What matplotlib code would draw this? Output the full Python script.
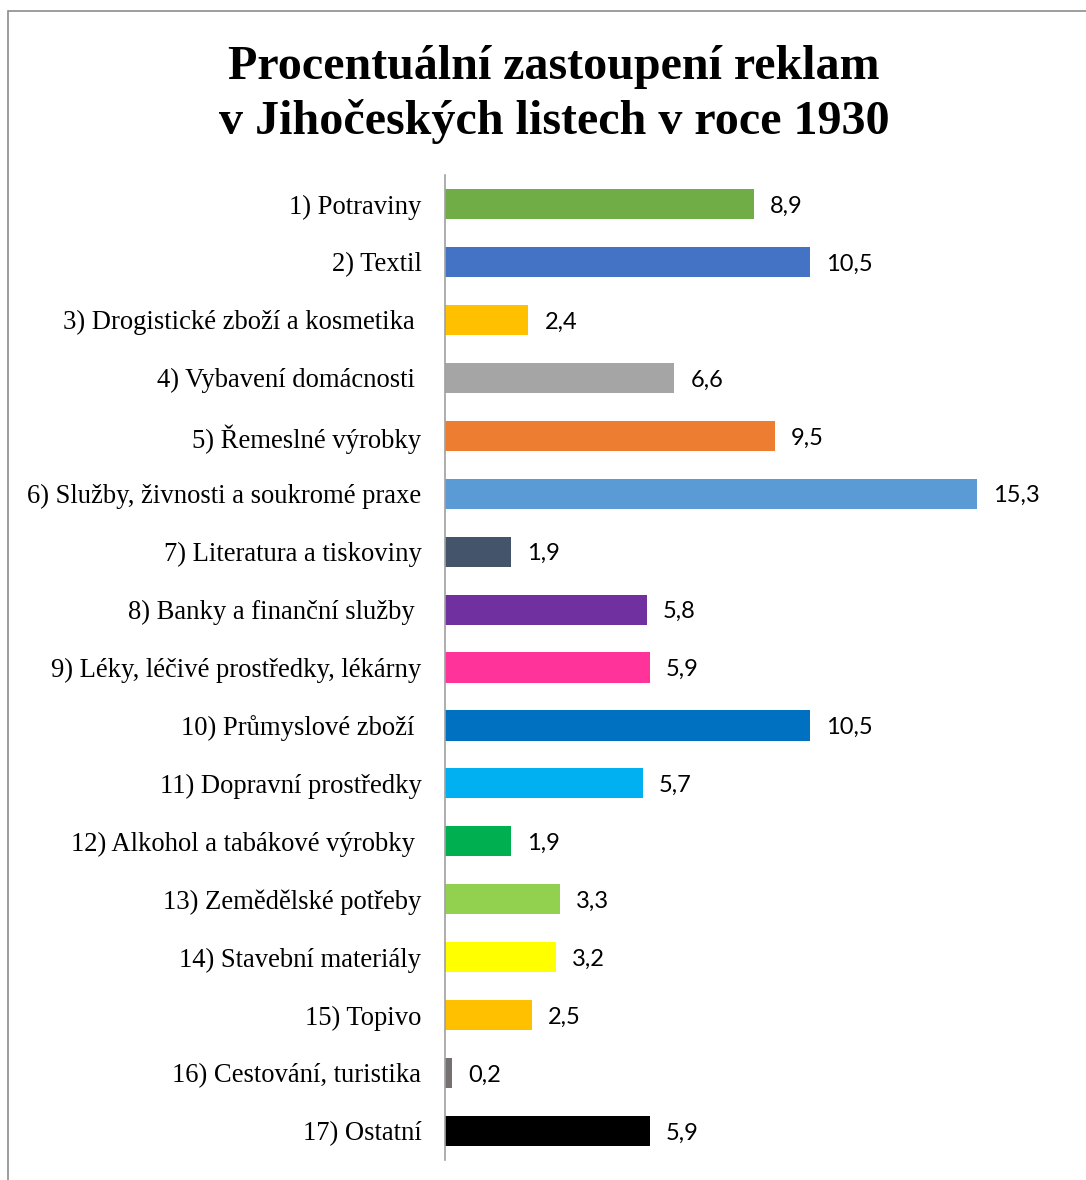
import matplotlib
matplotlib.use("Agg")
import matplotlib.pyplot as plt
from matplotlib.patches import Rectangle

categories = [
    "1) Potraviny",
    "2) Textil",
    "3) Drogistické zboží a kosmetika ",
    "4) Vybavení domácnosti ",
    "5) Řemeslné výrobky",
    "6) Služby, živnosti a soukromé praxe",
    "7) Literatura a tiskoviny",
    "8) Banky a finanční služby ",
    "9) Léky, léčivé prostředky, lékárny",
    "10) Průmyslové zboží ",
    "11) Dopravní prostředky",
    "12) Alkohol a tabákové výrobky ",
    "13) Zemědělské potřeby",
    "14) Stavební materiály",
    "15) Topivo",
    "16) Cestování, turistika",
    "17) Ostatní",
]
values = [8.9, 10.5, 2.4, 6.6, 9.5, 15.3, 1.9, 5.8, 5.9, 10.5, 5.7, 1.9, 3.3, 3.2, 2.5, 0.2, 5.9]
colors = ["#70AD47", "#4472C4", "#FFC000", "#A5A5A5", "#ED7D31", "#5B9BD5", "#44546A",
          "#7030A0", "#FF3399", "#0070C0", "#00B0F0", "#00B050", "#92D050", "#FFFF00",
          "#FFC000", "#767171", "#000000"]

fig = plt.figure(figsize=(10.86, 11.8), dpi=100)
ax = fig.add_axes([0.4098, 0.01695, 0.576, 0.8347])

pos = list(range(len(values)))
ax.barh(pos, values, height=0.52, color=colors)
ax.set_ylim(16.5, -0.5)
ax.set_xlim(0, 18)

for p, v in zip(pos, values):
    ax.annotate(f"{v:.1f}".replace(".", ","), (v, p), xytext=(11.5, -1.5),
                textcoords="offset points", va="center", ha="left",
                fontsize=17, family="Lato", color="#000000")

ax.set_yticks(pos)
ax.set_yticklabels(categories, family="Liberation Serif", fontsize=19.2)
ax.tick_params(axis="y", length=0, pad=17)
ax.set_xticks([])
for s in ["top", "right", "bottom"]:
    ax.spines[s].set_visible(False)
ax.spines["left"].set_color("#A0A0A0")
ax.spines["left"].set_linewidth(1.2)

fig.text(0.510, 0.920, "Procentuální zastoupení reklam\nv Jihočeských listech v roce 1930",
         ha="center", va="center", family="Liberation Serif", fontweight="bold",
         fontsize=34.6, linespacing=1.28)

fig.patches.append(Rectangle((8 / 1086, -0.1), 1.2, 1 - 11 / 1180 + 0.1,
                             transform=fig.transFigure, fill=False,
                             edgecolor="#8C8C8C", linewidth=1.2))

fig.savefig("out.png", dpi=100)
